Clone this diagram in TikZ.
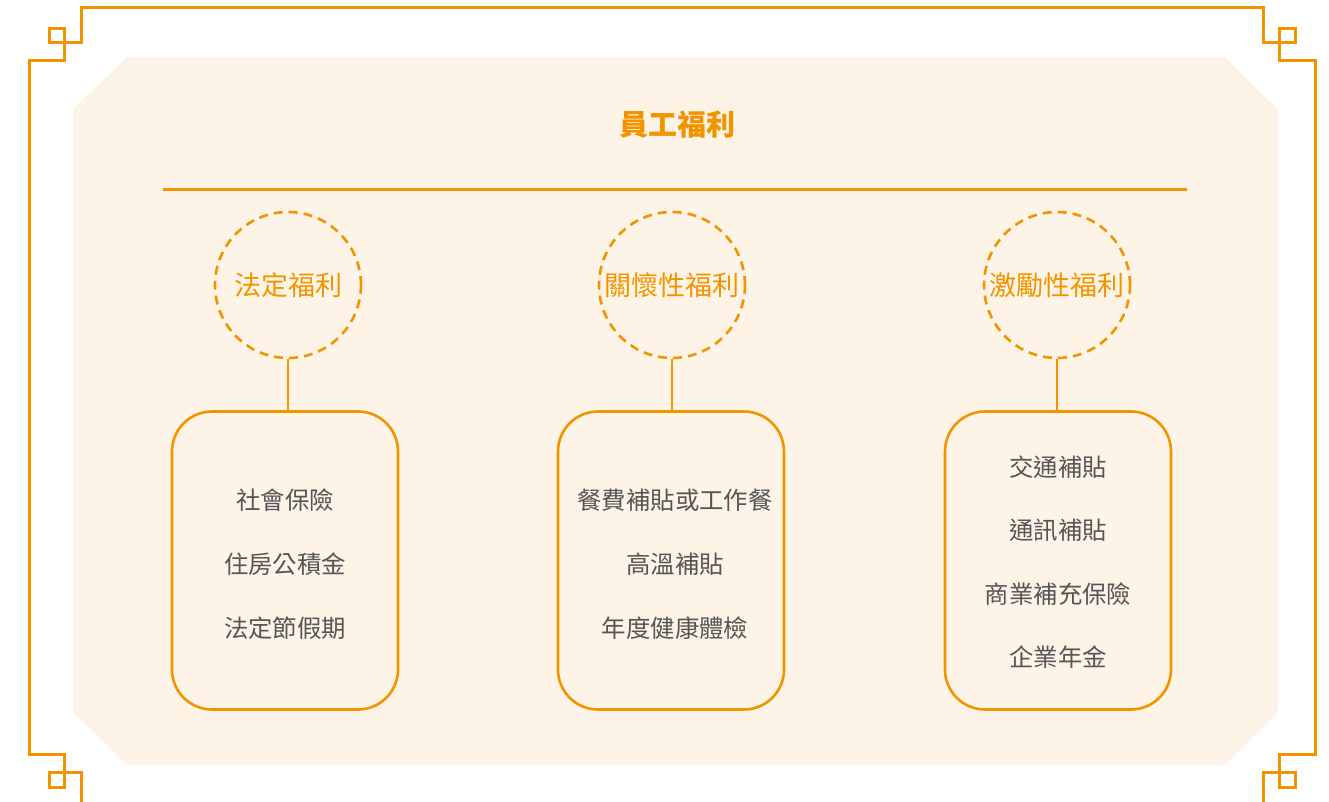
\documentclass[tikz,border=0pt]{standalone}
\usepackage{fontspec}
\setmainfont{Noto Sans CJK TC}
\usepackage{xcolor}

\definecolor{welfareorange}{HTML}{F29400}
\definecolor{welfarebeige}{HTML}{FDF4E7}
\definecolor{welfaregray}{HTML}{555555}

\begin{document}
\begin{tikzpicture}[x=0.5pt,y=-0.5pt,
	cat/.style={circle,draw=welfareorange,line width=1.3pt,dash pattern=on 4.5pt off 3pt,
		minimum size=73pt,inner sep=0pt,text=welfareorange,font=\fontsize{13.5}{16}\selectfont},
	itembox/.style={draw=welfareorange,line width=1.3pt,rounded corners=20pt,
		minimum width=113pt,minimum height=149pt},
	item/.style={text=welfaregray,font=\fontsize{12.2}{14}\selectfont,inner sep=1pt}]
	\useasboundingbox (0,0) rectangle (1329,802);

	\fill[welfarebeige] (127,57) -- (1225,57) -- (1278,109) -- (1278,712) -- (1225,765)
		-- (127,765) -- (73,712) -- (73,109) -- cycle;

	\draw[welfareorange,line width=1.5pt] (81,802) -- (81,772) -- (49,772) -- (49,787) -- (64,787)
		-- (64,754) -- (29,754) -- (29,61) -- (64,61) -- (64,29) -- (49,29) -- (49,43) -- (81,43)
		-- (81,8) -- (1263,8) -- (1263,43) -- (1295,43) -- (1295,29) -- (1279,29) -- (1279,61)
		-- (1315,61) -- (1315,754) -- (1279,754) -- (1279,787) -- (1295,787) -- (1295,772)
		-- (1263,772) -- (1263,802);

	\node[text=welfareorange,font=\fontsize{14.5}{17}\selectfont\bfseries] (title) at (677,125) {員工福利};
	\draw[welfareorange,line width=1.5pt] (163,190) -- (1187,190);

	\node[cat] (legal) at (288,285) {法定福利};
	\node[cat] (care) at (672,285) {關懷性福利};
	\node[cat] (bonus) at (1057,285) {激勵性福利};

	\node[itembox] (legalbox) at (285,560.5) {};
	\node[itembox] (carebox) at (671,560.5) {};
	\node[itembox] (bonusbox) at (1058,560.5) {};

	\draw[welfareorange,line width=1.3pt] (legal.south) -- (legal.south |- legalbox.north);
	\draw[welfareorange,line width=1.3pt] (care.south) -- (care.south |- carebox.north);
	\draw[welfareorange,line width=1.3pt] (bonus.south) -- (bonus.south |- bonusbox.north);

	\node[item] (legal1) at (285,500) {社會保險};
	\node[item] (legal2) at (285,564) {住房公積金};
	\node[item] (legal3) at (285,628) {法定節假期};

	\node[item] (care1) at (675,500) {餐費補貼或工作餐};
	\node[item] (care2) at (675,564) {高溫補貼};
	\node[item] (care3) at (675,628) {年度健康體檢};

	\node[item] (bonus1) at (1058,467) {交通補貼};
	\node[item] (bonus2) at (1058,530) {通訊補貼};
	\node[item] (bonus3) at (1058,594) {商業補充保險};
	\node[item] (bonus4) at (1058,657) {企業年金};
\end{tikzpicture}
\end{document}
